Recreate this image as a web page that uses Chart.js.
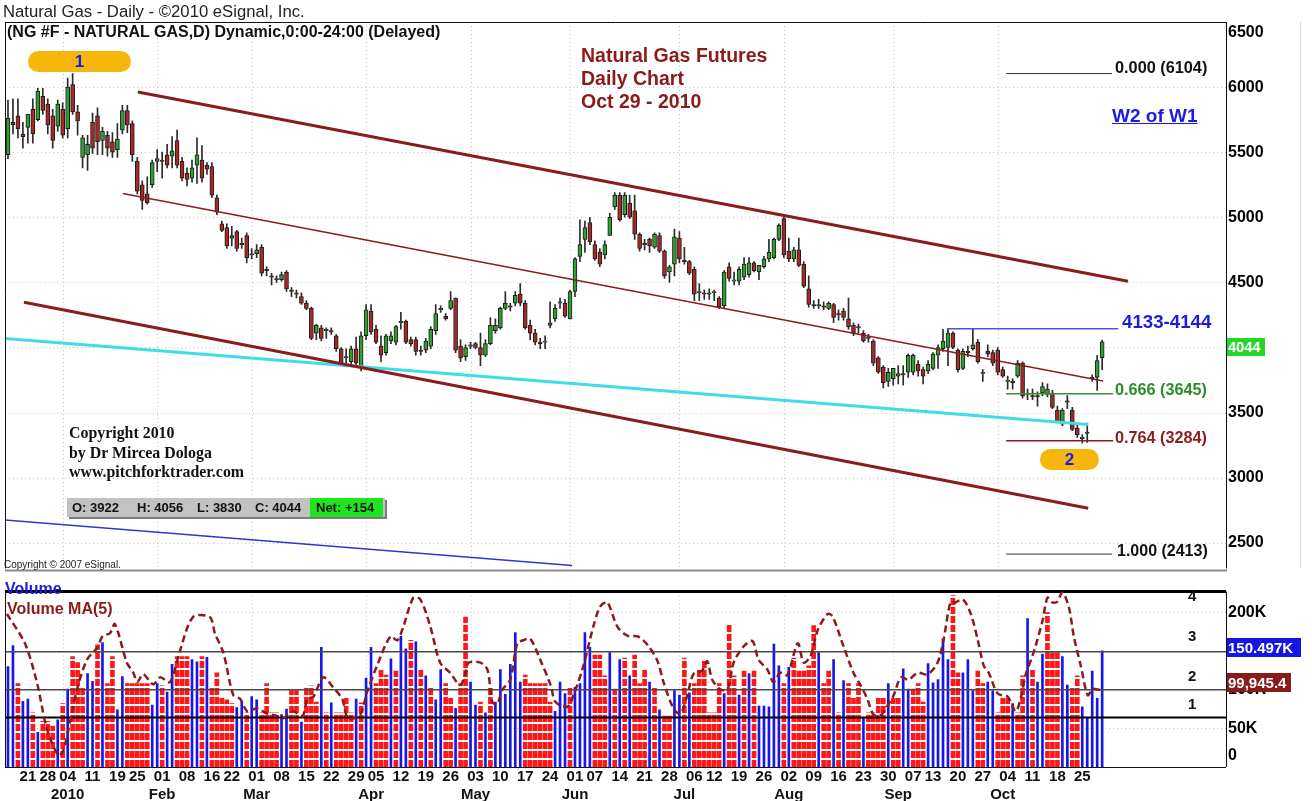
<!DOCTYPE html>
<html>
<head>
<meta charset="utf-8">
<title>Natural Gas Futures - Daily Chart</title>
<script src="https://cdn.jsdelivr.net/npm/chart.js@4.4.1/dist/chart.umd.min.js"></script>
<style>
  body { margin: 0; background: #fff; }
  #wrap { position: relative; width: 1312px; height: 801px; overflow: hidden; font-family: "Liberation Sans", Arial, sans-serif; }
  canvas { position: absolute; left: 0; }
  #priceChart { top: 0; }
  #volumeChart { top: 580px; }
  .t { position: absolute; white-space: nowrap; line-height: 1; }
  .b { font-weight: bold; }
  .pill { position: absolute; background: #f6b60c; border-radius: 11px; color: #1c1ce0; font-weight: bold; font-size: 17px; line-height: 21px; height: 21px; text-align: center; }
  .tag { position: absolute; color: #fff; font-weight: bold; font-size: 15px; line-height: 19px; height: 19px; padding-left: 1px; }
</style>
</head>
<body>
<div id="wrap">
  <canvas id="priceChart" width="1312" height="580"></canvas>
  <canvas id="volumeChart" width="1312" height="221"></canvas>

  <div class="t" style="left:3px;top:4px;font-size:16.7px;color:#222;">Natural Gas - Daily - ©2010 eSignal, Inc.</div>
  <div class="t b" style="left:7px;top:24px;font-size:16px;color:#111;">(NG #F - NATURAL GAS,D) Dynamic,0:00-24:00 (Delayed)</div>
  <div class="t b" style="left:581px;top:44px;font-size:19.5px;line-height:23px;color:#8b1a1a;">Natural Gas Futures<br>Daily Chart<br>Oct 29 - 2010</div>
  <div class="t b" style="left:1112px;top:106px;font-size:19px;color:#1c1ce0;text-decoration:underline;">W2 of W1</div>

  <div class="t b" style="left:1115px;top:59px;font-size:16.3px;color:#111;">0.000 (6104)</div>
  <div class="t b" style="left:1122px;top:313px;font-size:18.7px;color:#1c1ce0;">4133-4144</div>
  <div class="t b" style="left:1115px;top:381px;font-size:16.2px;color:#2e8b2e;">0.666 (3645)</div>
  <div class="t b" style="left:1115px;top:429px;font-size:16.2px;color:#8b2020;">0.764 (3284)</div>
  <div class="t b" style="left:1117px;top:543px;font-size:16px;color:#111;">1.000 (2413)</div>

  <div class="pill" style="left:28px;top:51px;width:103px;">1</div>
  <div class="pill" style="left:1040px;top:449px;width:59px;">2</div>

  <div class="t b" style="left:69px;top:423px;font-family:'Liberation Serif','Times New Roman',serif;font-size:15.9px;line-height:19.5px;color:#111;">Copyright 2010<br>by Dr Mircea Dologa<br>www.pitchforktrader.com</div>

  <div style="position:absolute;left:67px;top:498px;width:318px;height:19px;background:#c2c2c2;box-shadow:2px 2px 0 #7d7d7d;font:bold 13px 'Liberation Sans',Arial,sans-serif;color:#111;">
    <span class="t" style="left:5px;top:3px;">O: 3922</span>
    <span class="t" style="left:70px;top:3px;">H: 4056</span>
    <span class="t" style="left:130px;top:3px;">L: 3830</span>
    <span class="t" style="left:188px;top:3px;">C: 4044</span>
    <div style="position:absolute;left:243px;top:0;width:73px;height:19px;background:#1ee61e;"></div>
    <span class="t" style="left:249px;top:3px;">Net: +154</span>
  </div>
  <div class="t" style="left:4px;top:560px;font-size:10px;color:#222;">Copyright © 2007 eSignal.</div>

  <div class="t b" style="left:1228px;top:24px;font-size:16px;color:#000;">6500</div>
  <div class="tag" style="left:1227px;top:338px;width:37px;height:18px;line-height:18px;font-size:14.5px;background:#26d626;">4044</div>

  <div class="t b" style="left:5px;top:581px;font-size:16px;color:#1c1ce0;">Volume</div>
  <div class="t b" style="left:7px;top:601px;font-size:16px;color:#8b1a1a;">Volume MA(5)</div>
  <div class="t b" style="left:1188px;top:588px;font-size:15px;color:#111;">4</div>
  <div class="t b" style="left:1188px;top:628px;font-size:15px;color:#111;">3</div>
  <div class="t b" style="left:1188px;top:668px;font-size:15px;color:#111;">2</div>
  <div class="t b" style="left:1188px;top:696px;font-size:15px;color:#111;">1</div>
  <div class="tag" style="left:1227px;top:638px;width:73px;background:#1515e6;">150.497K</div>
  <div class="tag" style="left:1227px;top:673px;width:63px;background:#8b1a1a;">99,945.4</div>
  <div class="t b" style="left:1228px;top:747px;font-size:16px;color:#000;">0</div>
</div>

<script>
// ---- daily bars, Dec 15 2009 .. Oct 29 2010 (221 sessions) ----
const opens = [
  5480,5730,5780,5640,5690,5830,5750,5930,5870,5780,
  5700,5830,5680,6020,5810,5460,5480,5730,5780,5590,
  5630,5580,5520,5670,5820,5720,5430,5250,5180,5250,
  5430,5440,5480,5470,5590,5430,5340,5300,5400,5440,
  5400,5390,5150,4950,4920,4840,4890,4800,4860,4720,
  4720,4770,4600,4550,4530,4520,4580,4440,4420,4390,
  4340,4300,4110,4150,4130,4130,4090,3990,3920,3890,
  3990,3850,4090,4280,4140,4010,3960,4050,4040,4190,
  4200,4060,4060,3980,3980,4010,4130,4290,4240,4300,
  4380,4010,3930,4010,4030,4000,3940,4030,4130,4150,
  4300,4320,4340,4410,4340,4170,4110,4040,4040,4170,
  4220,4340,4340,4220,4430,4700,4830,4960,4790,4730,
  4710,4860,5080,5170,5020,5110,5050,4870,4790,4830,
  4770,4860,4740,4580,4640,4840,4670,4660,4600,4420,
  4420,4410,4420,4380,4320,4620,4510,4510,4540,4560,
  4650,4580,4620,4680,4690,4830,4990,4740,4680,4750,
  4640,4450,4330,4320,4320,4300,4330,4260,4280,4220,
  4170,4150,4110,4070,4050,3920,3850,3740,3760,3780,
  3800,3810,3810,3870,3830,3820,3840,3940,3990,4000,
  4110,3980,3840,3970,3990,4040,3800,3970,3960,3980,
  3830,3740,3740,3780,3880,3650,3630,3630,3650,3640,
  3650,3520,3410,3590,3520,3380,3300,3340,3760,3770,
  3922
];
const highs = [
  5900,5910,5910,5730,5790,5910,5990,5990,5910,5830,
  5900,5880,6070,6104,5860,5630,5630,5800,5840,5690,
  5660,5650,5720,5860,5860,5740,5460,5280,5310,5440,
  5520,5500,5560,5620,5670,5460,5380,5440,5610,5550,
  5420,5420,5170,4970,4950,4930,4900,4840,4880,4760,
  4790,4790,4620,4570,4550,4580,4590,4460,4440,4420,
  4360,4310,4180,4170,4150,4150,4100,4000,3990,4010,
  4080,4120,4330,4330,4170,4090,4100,4120,4170,4270,
  4210,4080,4080,4010,4070,4160,4330,4320,4260,4430,
  4380,4060,4020,4040,4040,4110,4060,4230,4220,4310,
  4430,4340,4430,4490,4360,4210,4140,4070,4090,4350,
  4330,4380,4370,4440,4690,4980,4970,5000,4820,4760,
  4820,5030,5190,5190,5190,5170,5170,4880,4830,4840,
  4880,4880,4750,4630,4910,4890,4770,4670,4620,4490,
  4440,4450,4440,4390,4590,4650,4580,4620,4690,4690,
  4660,4620,4700,4830,4840,4950,5010,4840,4770,4840,
  4660,4550,4360,4370,4350,4350,4340,4290,4300,4380,
  4190,4180,4130,4100,4060,3930,3860,3840,3840,3860,
  3860,3950,3950,3900,3850,3900,3960,4020,4140,4144,
  4120,3990,3990,4010,4144,4060,3830,4020,3980,4000,
  3850,3780,3760,3900,3890,3680,3680,3660,3730,3720,
  3670,3550,3530,3630,3540,3410,3330,3420,3790,3940,
  4056
];
const lows = [
  5450,5640,5610,5530,5570,5570,5740,5790,5640,5530,
  5660,5610,5610,5790,5630,5380,5360,5490,5480,5480,
  5470,5460,5460,5640,5650,5430,5180,5060,5100,5230,
  5350,5300,5380,5380,5380,5280,5240,5270,5260,5270,
  5330,5150,5020,4890,4760,4780,4740,4760,4650,4680,
  4690,4550,4550,4480,4500,4510,4430,4390,4380,4330,
  4290,4060,4060,4050,4070,4100,3970,3870,3880,3860,
  3860,3820,4060,4100,4030,3890,3940,4030,4020,4140,
  4030,4010,3940,3940,3960,3990,4100,4270,4210,4290,
  3960,3890,3900,3990,3990,3860,3930,4020,4110,4140,
  4290,4280,4320,4320,4140,4060,4020,3990,3990,4150,
  4200,4300,4230,4220,4390,4660,4730,4790,4670,4620,
  4680,4860,5060,4970,5000,4990,4830,4740,4750,4730,
  4760,4730,4530,4500,4550,4650,4640,4560,4360,4360,
  4370,4370,4360,4300,4300,4510,4480,4480,4520,4540,
  4580,4520,4610,4660,4680,4820,4690,4660,4660,4620,
  4460,4310,4300,4300,4290,4290,4190,4210,4210,4140,
  4090,4110,4040,4040,3860,3800,3690,3700,3710,3720,
  3710,3770,3790,3780,3720,3800,3830,3840,3970,3860,
  3990,3810,3830,3930,3980,3880,3740,3930,3860,3790,
  3770,3680,3680,3770,3610,3600,3600,3550,3630,3620,
  3530,3420,3400,3530,3360,3310,3265,3270,3740,3670,
  3830
];
const closes = [
  5760,5710,5680,5620,5790,5640,5970,5820,5710,5590,
  5870,5630,6000,5810,5740,5610,5560,5530,5580,5660,
  5530,5500,5600,5820,5710,5480,5200,5130,5110,5420,
  5450,5430,5400,5510,5400,5300,5290,5380,5480,5300,
  5370,5170,5040,4900,4780,4860,4760,4790,4690,4710,
  4750,4570,4590,4540,4520,4560,4450,4430,4410,4340,
  4300,4070,4170,4070,4140,4120,3990,3880,3930,3990,
  3880,4090,4290,4120,4040,3940,4090,4090,4160,4200,
  4040,4030,3970,3970,4050,4140,4260,4300,4220,4360,
  3980,3920,4000,4020,4000,3940,4030,4170,4170,4300,
  4340,4310,4400,4340,4150,4110,4040,4030,4050,4190,
  4300,4350,4240,4430,4680,4790,4920,4810,4680,4640,
  4790,5000,5170,4980,5170,5000,4870,4760,4800,4780,
  4870,4740,4550,4620,4850,4680,4660,4570,4410,4430,
  4410,4420,4430,4310,4580,4530,4520,4600,4640,4650,
  4590,4630,4680,4730,4830,4940,4710,4680,4750,4630,
  4470,4330,4320,4330,4310,4340,4230,4250,4230,4160,
  4110,4160,4050,4080,3880,3810,3730,3810,3840,3800,
  3790,3940,3940,3820,3780,3870,3950,4000,4050,4110,
  4000,3830,3970,3960,4020,3890,3810,3950,3880,3810,
  3780,3750,3730,3880,3630,3640,3620,3620,3700,3680,
  3540,3430,3520,3580,3370,3330,3310,3350,3770,3900,
  4044
];
// volume in thousands of contracts; volBlue 1 = blue bar, 0 = red bar
const volumes = [
  130,157,108,85,88,70,45,59,59,53,
  61,82,101,143,135,103,121,111,158,161,
  108,143,74,117,108,108,108,108,108,80,
  108,105,97,133,143,143,143,139,136,143,
  142,103,122,89,87,82,77,85,70,91,
  87,70,108,70,70,68,75,99,99,58,
  103,105,84,155,70,83,70,70,89,70,
  88,83,115,155,108,126,119,140,124,169,
  153,164,162,126,118,103,87,126,108,89,
  76,108,194,110,80,84,70,103,84,126,
  94,133,174,110,119,108,108,108,108,84,
  72,110,95,103,103,108,174,155,145,145,
  118,148,101,139,141,118,145,108,126,110,
  103,74,66,66,99,93,141,96,108,126,
  139,70,70,108,95,184,118,93,124,121,
  124,79,79,78,159,131,108,129,141,124,
  124,131,183,148,108,124,139,70,112,108,
  89,108,63,70,70,89,89,108,89,89,
  127,101,101,108,84,134,109,113,166,139,
  222,122,122,139,99,124,108,110,99,70,
  89,89,82,70,118,192,127,110,146,200,
  148,148,143,106,103,118,78,63,124,89,
  150.5
];
const volBlue = [
  1,1,0,1,1,0,1,0,0,0,
  1,0,1,0,0,0,1,1,0,1,
  0,0,1,1,0,0,0,0,0,1,
  1,0,1,1,0,0,0,1,1,0,
  1,0,0,0,0,0,1,1,0,1,
  1,0,0,0,0,1,1,0,0,1,
  0,0,0,1,0,1,0,0,0,0,
  1,0,1,1,0,0,0,1,0,1,
  1,0,1,0,1,0,1,1,0,0,
  1,0,0,1,1,0,1,0,1,1,
  1,1,1,1,0,0,0,0,0,0,
  1,1,1,0,1,1,1,1,0,0,
  0,1,0,1,0,1,0,0,0,1,
  0,1,0,0,1,1,0,1,0,0,
  0,0,0,0,1,0,0,1,0,1,
  0,1,1,1,1,1,0,1,0,0,
  0,0,0,1,0,0,1,0,1,0,
  0,0,1,0,0,0,0,1,0,0,
  1,1,0,0,0,1,1,1,1,1,
  0,0,1,1,1,0,0,1,1,0,
  0,0,1,0,0,1,0,1,1,0,
  0,0,1,1,0,0,1,1,1,1,
  1
];
// Volume MA(5): bar position -> value (K)
const maX = [
  -0.2,3.4,5.8,7.8,10.1,11.1,12.5,13.9,15.9,17.9,
  19.1,20.5,21.5,23.9,25.2,26,27.2,29.2,30.6,32.6,
  34.6,37.2,40.6,41.6,43.3,45.3,46.7,48.1,50.1,52.1,
  54.1,55.3,57.3,59.2,60.2,61.4,63.4,65.4,67.2,68.4,
  70.8,72.2,74.2,76.9,78.3,79.5,81.5,82.9,84.9,86.9,
  88.9,90.9,92,92.6,95,96.4,97.4,98.4,99.4,101,
  102.4,103.6,105,107,109.1,110.1,112.5,113.7,115.7,117.7,
  119.1,120.5,122.5,124.5,126.6,128.6,130.6,131.8,133.8,135.2,
  136.6,137.8,139.6,140.6,141.6,143.3,144.7,145.9,147.9,149.7,
  150.9,152.7,153.9,155.3,156.7,158.8,160,161.4,162.8,164.8,
  165.8,168,170,171.4,172.8,174,175.5,176.5,178.1,179.5,
  181.1,182.9,184.9,186.9,188.1,189.5,190.5,192,193.6,195,
  196.2,197.2,199,201,202.6,203.6,204.6,206.2,208,209,
  210,211,212,213.3,214.3,215.7,217.1,218.1,219.3,220
];
const maV = [
  198,160,110,50,15,21,59,101,139,154,
  170,173,185,135,122,110,120,107,116,110,
  151,194,194,173,148,93,88,72,76,69,
  66,63,72,66,88,91,116,103,88,63,
  68,97,131,169,164,182,219,217,182,135,
  122,106,122,135,135,126,84,82,100,113,
  160,164,166,139,106,84,78,93,131,182,
  208,213,182,170,169,158,137,110,76,69,
  93,120,125,137,113,100,101,135,156,163,
  139,126,110,122,119,160,135,144,177,198,
  195,156,122,106,88,68,67,76,93,116,
  113,122,120,135,164,213,213,217,198,164,
  131,122,95,91,72,88,119,148,189,219,
  213,214,226,207,169,131,93,101,100,100
];

const priceTicks = [2500, 3000, 3500, 4000, 4500, 5000, 5500, 6000, 6500];
const volTicks = [0, 50, 100, 150, 200];
const volLevels = [64, 100, 149, 227];

// drawn lines, endpoints as [bar position, price]
const upperTine = [[26.1, 5962], [225.2, 4508]];
const medianLine = [[23.1, 5182], [220.2, 3742]];
const lowerTine = [[3.2, 4348], [217.2, 2765]];
const cyanLine = [[-0.6, 4068], [217.2, 3409]];
const blueLine = [[-0.6, 2674], [113.4, 2326]];
const fibLevels = [6104, 4144, 3645, 3284, 2413];
const fibFrom = [200.7, 188.8, 200.7, 200.7, 200.7];
const fibTo = [222, 223.2, 222.2, 222.2, 222];
const fibColors = ['#333', '#5050dd', '#3a8f3a', '#8b1c1c', '#333'];

// ---- trading calendar ----
const holidays = ['2009-12-25', '2010-01-01', '2010-01-18', '2010-02-15', '2010-04-02', '2010-05-31', '2010-07-05', '2010-09-06'];
const monthNames = ['Jan','Feb','Mar','Apr','May','Jun','Jul','Aug','Sep','Oct','Nov','Dec'];
function tradingDays() {
    const out = [];
    const d = new Date(Date.UTC(2009, 11, 15));
    const end = Date.UTC(2010, 9, 29);
    while (d.getTime() <= end) {
        const wd = d.getUTCDay();
        if (wd !== 0 && wd !== 6 && !holidays.includes(d.toISOString().slice(0, 10))) out.push(new Date(d.getTime()));
        d.setUTCDate(d.getUTCDate() + 1);
    }
    return out;
}
const days = tradingDays();
const weekStarts = [];
const monthStarts = [];
days.forEach((d, i) => {
    if (i === 0) return;
    const p = days[i - 1];
    if (d.getUTCDay() < p.getUTCDay()) weekStarts.push(i);
    if (d.getUTCMonth() !== p.getUTCMonth()) monthStarts.push(i);
});

const X_MIN = -0.6, X_MAX = 244.9;
const FONT = 'Liberation Sans, Arial, sans-serif';
const pad2 = n => (n < 10 ? '0' : '') + n;

function seg(points) {
    return points.map(p => ({ x: p[0], y: p[1] }));
}
function lineSet(points, color, width) {
    return { type: 'line', data: seg(points), borderColor: color, borderWidth: width, pointRadius: 0, fill: false, clip: false };
}

// dotted grid + panel frame
function panelPlugin(hValues, frame) {
    return {
        id: 'panel',
        beforeDatasetsDraw(chart) {
            const { ctx, chartArea: a, scales } = chart;
            ctx.save();
            ctx.strokeStyle = '#c6c6c6';
            ctx.lineWidth = 1;
            ctx.setLineDash([1, 3]);
            hValues.forEach(v => {
                const y = Math.round(scales.y.getPixelForValue(v)) + 0.5;
                ctx.beginPath(); ctx.moveTo(a.left, y); ctx.lineTo(a.right, y); ctx.stroke();
            });
            monthStarts.forEach(i => {
                const x = Math.round(scales.x.getPixelForValue(i - 1)) + 0.5;
                ctx.beginPath(); ctx.moveTo(x, a.top); ctx.lineTo(x, a.bottom); ctx.stroke();
            });
            ctx.restore();
        },
        afterDraw(chart) {
            const { ctx, chartArea: a } = chart;
            ctx.save();
            ctx.strokeStyle = '#111';
            ctx.lineWidth = 1;
            ctx.beginPath();
            ctx.moveTo(a.left + 0.5, a.top); ctx.lineTo(a.left + 0.5, a.bottom);
            ctx.moveTo(a.right + 0.5, a.top); ctx.lineTo(a.right + 0.5, a.bottom);
            if (frame === 'price') { ctx.moveTo(a.left, a.top + 0.5); ctx.lineTo(a.right, a.top + 0.5); }
            else { ctx.moveTo(a.left, a.bottom + 0.5); ctx.lineTo(a.right, a.bottom + 0.5); }
            ctx.stroke();
            if (frame === 'price') {
                ctx.strokeStyle = '#8a8a8a';
                ctx.lineWidth = 2;
                ctx.beginPath(); ctx.moveTo(a.left, a.bottom + 2); ctx.lineTo(a.right + 1, a.bottom + 2); ctx.stroke();
                ctx.strokeStyle = '#d6d6d6';
                ctx.lineWidth = 1;
                ctx.beginPath(); ctx.moveTo(1300.5, a.top); ctx.lineTo(1300.5, a.bottom); ctx.stroke();
            }
            ctx.restore();
        }
    };
}

// ---- price panel ----
const wickData = days.map((d, i) => ({ x: i, y: [lows[i], highs[i]] }));
const bodyData = days.map((d, i) => ({ x: i, y: [opens[i], closes[i]] }));

const priceSets = [];
fibLevels.forEach((v, k) => priceSets.push(lineSet([[fibFrom[k], v], [fibTo[k], v]], fibColors[k], k === 0 || k === 4 ? 1 : 1.5)));
priceSets.push(lineSet(upperTine, '#8b1c1c', 3));
priceSets.push(lineSet(medianLine, '#8b1c1c', 1.5));
priceSets.push(lineSet(lowerTine, '#8b1c1c', 3));
priceSets.push(lineSet(cyanLine, '#3fdcec', 3));
priceSets.push(lineSet(blueLine, '#3434cc', 1.5));
priceSets.push({
    type: 'bar', data: bodyData, grouped: false, barThickness: 4,
    backgroundColor: c => (closes[c.dataIndex] >= opens[c.dataIndex] ? '#2f9f2f' : '#a82828'),
    borderColor: '#1b1b1b', borderWidth: 1, borderSkipped: false
});
priceSets.push({ type: 'bar', data: wickData, grouped: false, barThickness: 1, backgroundColor: '#2b2b2b' });

const axisFont = { family: FONT, size: 16, weight: 'bold' };
new Chart(document.getElementById('priceChart'), {
    type: 'bar',
    data: { datasets: priceSets },
    options: {
        responsive: false,
        animation: false,
        layout: { padding: { left: 5, top: 22, right: 0, bottom: 4 } },
        plugins: { legend: { display: false }, tooltip: { enabled: false } },
        scales: {
            x: { type: 'linear', min: X_MIN, max: X_MAX, offset: false, display: false },
            y: {
                type: 'linear', position: 'right', min: 2303, max: 6500,
                grid: { display: false, drawTicks: false }, border: { display: false },
                afterBuildTicks: s => { s.ticks = priceTicks.map(v => ({ value: v })); },
                afterFit: s => { s.width = 86; },
                ticks: { padding: 2, color: '#000', font: axisFont,
                         callback: v => (v === 6500 ? '' : String(v)) }
            }
        }
    },
    plugins: [panelPlugin([2500, 3000, 3500, 4000, 4500, 5000, 5500, 6000], 'price')]
});

// ---- volume panel ----
function stripes() {
    const c = document.createElement('canvas');
    c.width = 4; c.height = 9;
    const g = c.getContext('2d');
    g.fillStyle = '#ff1616'; g.fillRect(0, 0, 4, 7);
    g.fillStyle = '#ffffff'; g.fillRect(0, 7, 4, 2);
    return g.createPattern(c, 'repeat');
}
const blueBars = [], redBars = [];
volumes.forEach((v, i) => (volBlue[i] ? blueBars : redBars).push({ x: i, y: v }));

const volSets = [];
volSets.push({
    type: 'line', data: maX.map((x, k) => ({ x: x, y: maV[k] })), borderColor: '#8b1a1a',
    borderWidth: 2.5, borderDash: [7, 4], pointRadius: 0, tension: 0.3, fill: false
});
volLevels.forEach((v, k) => volSets.push(lineSet([[X_MIN, v], [X_MAX, v]], k === 0 || k === 3 ? '#000' : '#4a4a4a', k === 3 ? 3 : (k === 0 ? 2 : 1.5))));
volSets.push({ type: 'bar', data: blueBars, grouped: false, barThickness: 2, backgroundColor: '#1717e8' });
volSets.push({ type: 'bar', data: redBars, grouped: false, barThickness: 4, backgroundColor: stripes() });

const dayFont = { family: FONT, size: 15, weight: 'bold' };
new Chart(document.getElementById('volumeChart'), {
    type: 'bar',
    data: { datasets: volSets },
    options: {
        responsive: false,
        animation: false,
        layout: { padding: { left: 5, top: 7, right: 0, bottom: 0 } },
        plugins: { legend: { display: false }, tooltip: { enabled: false } },
        scales: {
            x: {
                type: 'linear', min: X_MIN, max: X_MAX, offset: false, position: 'bottom', weight: 0,
                grid: { display: false, drawTicks: false }, border: { display: false },
                afterBuildTicks: s => { s.ticks = weekStarts.filter(i => i > 1).map(v => ({ value: v })); },
                afterFit: s => { s.height = 18; },
                ticks: { autoSkip: false, maxRotation: 0, padding: 1, color: '#111', font: dayFont,
                         callback: v => pad2(days[v].getUTCDate()) }
            },
            xm: {
                axis: 'x', type: 'linear', min: X_MIN, max: X_MAX, offset: false, position: 'bottom', weight: 1,
                grid: { display: false, drawTicks: false }, border: { display: false },
                afterBuildTicks: s => { s.ticks = monthStarts.map(v => ({ value: v })); },
                afterFit: s => { s.height = 16; },
                ticks: { autoSkip: false, maxRotation: 0, padding: 1, color: '#111', font: dayFont,
                         callback: v => (days[v].getUTCMonth() === 0 ? '2010' : monthNames[days[v].getUTCMonth()]) }
            },
            y: {
                type: 'linear', position: 'right', min: 0, max: 227,
                grid: { display: false, drawTicks: false }, border: { display: false },
                afterBuildTicks: s => { s.ticks = volTicks.map(v => ({ value: v })); },
                afterFit: s => { s.width = 86; },
                ticks: { padding: 2, color: '#000', font: axisFont, callback: v => (v === 0 ? '' : v + 'K') }
            }
        }
    },
    plugins: [panelPlugin([50, 200], 'volume')]
});
</script>
</body>
</html>
